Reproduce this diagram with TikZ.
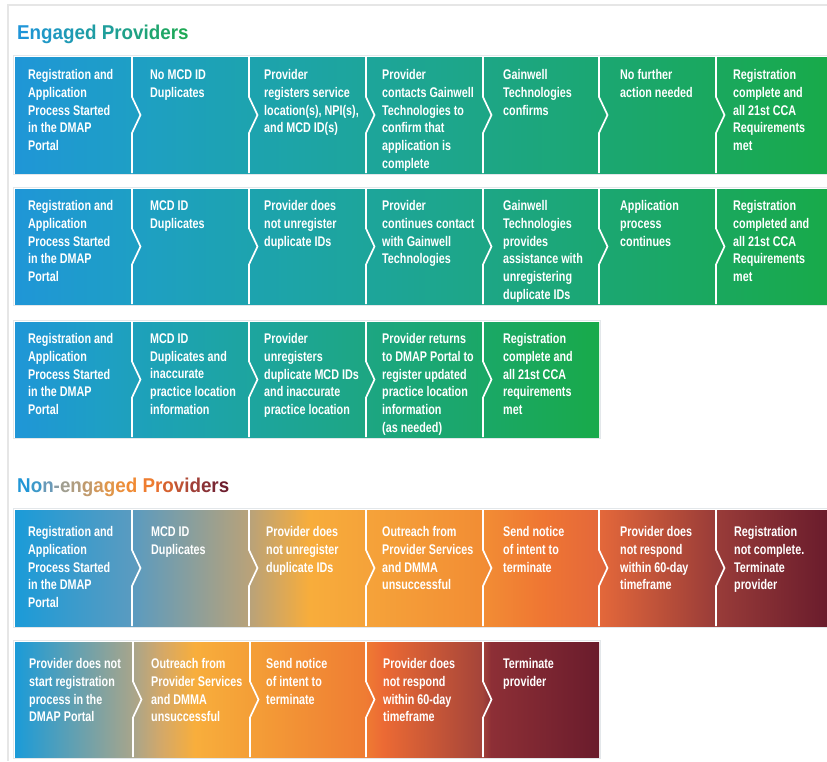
\documentclass[tikz,border=0pt]{standalone}
\usepackage{fontspec}
\usetikzlibrary{calc}
\newfontfamily\boxfont{Liberation Sans}[FakeStretch=0.77]
\newfontfamily\titlefont{Liberation Sans}[FakeStretch=0.94]

% colour stops of the "engaged" bands (blue -> green)
\definecolor{E0}{HTML}{1F96D7}
\definecolor{E1}{HTML}{1E9FC5}
\definecolor{E2}{HTML}{1DA3AF}
\definecolor{E3}{HTML}{1DA59B}
\definecolor{E4}{HTML}{1DA686}
\definecolor{E5}{HTML}{1BA772}
\definecolor{E6}{HTML}{1AA85E}
\definecolor{E7}{HTML}{18AA4A}
\pgfdeclarehorizontalshading{engagedfill}{100bp}{color(0bp)=(E0); color(25bp)=(E0);
  color(32.2bp)=(E1); color(39.4bp)=(E2); color(46.6bp)=(E3); color(53.8bp)=(E4);
  color(60.95bp)=(E5); color(68.15bp)=(E6); color(75bp)=(E7); color(100bp)=(E7)}

% colour stops of the long "non-engaged" band (blue -> tan -> orange -> maroon)
\definecolor{N0}{HTML}{1B9BD8}
\definecolor{N1}{HTML}{5A9BC0}
\definecolor{N2}{HTML}{B8A27A}
\definecolor{N3}{HTML}{F8AD3B}
\definecolor{N4}{HTML}{F5A33A}
\definecolor{N5}{HTML}{F28D34}
\definecolor{N6}{HTML}{EF7633}
\definecolor{N7}{HTML}{E4683A}
\definecolor{N8}{HTML}{993C39}
\definecolor{N9}{HTML}{6A1C2C}
\pgfdeclarehorizontalshading{nonengagedfill}{100bp}{color(0bp)=(N0); color(25bp)=(N0);
  color(32.2bp)=(N1); color(39.4bp)=(N2); color(43.15bp)=(N3); color(46.6bp)=(N4);
  color(53.8bp)=(N5); color(57.5bp)=(N6); color(60.95bp)=(N7); color(68.15bp)=(N8);
  color(75bp)=(N9); color(100bp)=(N9)}

% colour stops of the short "non-engaged" band
\definecolor{M0}{HTML}{1B9BD8}
\definecolor{M1}{HTML}{A8A58B}
\definecolor{M2}{HTML}{D2A86A}
\definecolor{M3}{HTML}{F8AE3C}
\definecolor{M4}{HTML}{F49F37}
\definecolor{M5}{HTML}{EF7C33}
\definecolor{M6}{HTML}{EC6A34}
\definecolor{M7}{HTML}{A4443A}
\definecolor{M8}{HTML}{8D2F36}
\definecolor{M9}{HTML}{6A1C2C}
\pgfdeclarehorizontalshading{nonengagedshort}{100bp}{color(0bp)=(M0); color(25bp)=(M0);
  color(35.1bp)=(M1); color(37.4bp)=(M2); color(40.4bp)=(M3); color(45.1bp)=(M4);
  color(55bp)=(M5); color(56.5bp)=(M6); color(65bp)=(M7); color(65.75bp)=(M8);
  color(75bp)=(M9); color(100bp)=(M9)}

\definecolor{framegray}{HTML}{E6E6E6}
\definecolor{edgegray}{HTML}{E3E7EA}

\newcommand\tc[2]{\textcolor[HTML]{#1}{#2}}
\newcommand\firststrut{\rule{0pt}{12pt}}

% white chevron separator between two steps: #1 top, #2 bottom, #3 x
\newcommand\chevsep[3]{%
  \draw[sepline] (#3,#1) -- (#3,{(#1+#2)/2-18}) -- ({#3+8.5},{(#1+#2)/2})
    -- (#3,{(#1+#2)/2+18}) -- (#3,#2);}

\begin{document}
\begin{tikzpicture}[x=1pt,y=-1pt,
  rowband/.style={draw=none, inner sep=0pt, outer sep=0pt, anchor=north west, shade},
  steptext/.style={anchor=north west, inner sep=0pt, align=left, text=white,
    font=\boxfont\bfseries\fontsize{14pt}{17.7pt}\selectfont,
    execute at begin node=\firststrut, yshift=-1.5pt},
  sepline/.style={draw=white, line width=1.7pt, line join=miter},
  rowedge/.style={draw=edgegray, line width=0.9pt},
  heading/.style={anchor=base west, inner sep=0pt,
    font=\titlefont\bfseries\fontsize{20pt}{24pt}\selectfont}]

\useasboundingbox[fill=white] (0,0) rectangle (827,761);
\draw[framegray, line width=1.5pt] (8,761) -- (8,5) -- (827,5);

% ---------------- Engaged providers ----------------
\node[heading] (engtitle) at (17,39) {\tc{1F95D8}{E}\tc{1F96CF}{n}\tc{1F98C6}{g}\tc{1F99BE}{a}\tc{1F9AB5}{g}\tc{1F9CAC}{e}\tc{1F9DA4}{d} \tc{1F9E9B}{P}\tc{1FA092}{r}\tc{1FA189}{o}\tc{1FA281}{v}\tc{1FA478}{i}\tc{1FA56F}{d}\tc{1FA666}{e}\tc{1FA85E}{r}\tc{1FA955}{s}};

% row 1
\node[rowband, shading=engagedfill, minimum width=812pt, minimum height=116pt] (eng1) at (15,57) {};
\draw[rowedge] ($(eng1.north west)+(-1.5,-1.5)$) rectangle ($(eng1.south east)+(1.5,1.5)$);
\foreach \x in {132,249,366,483,599,716} {\chevsep{57}{173}{\x}}
\node[steptext] (eng1a) at (28,68)  {Registration and\\Application\\Process Started\\in the DMAP\\Portal};
\node[steptext] (eng1b) at (150,68) {No MCD ID\\Duplicates};
\node[steptext] (eng1c) at (264,68) {Provider\\registers service\\location(s), NPI(s),\\and MCD ID(s)};
\node[steptext] (eng1d) at (382,68) {Provider\\contacts Gainwell\\Technologies to\\confirm that\\application is\\complete};
\node[steptext] (eng1e) at (503,68) {Gainwell\\Technologies\\confirms};
\node[steptext] (eng1f) at (620,68) {No further\\action needed};
\node[steptext] (eng1g) at (733,68) {Registration\\complete and\\all 21st CCA\\Requirements\\met};

% row 2
\node[rowband, shading=engagedfill, minimum width=812pt, minimum height=115pt] (eng2) at (15,189) {};
\draw[rowedge] ($(eng2.north west)+(-1.5,-1.5)$) rectangle ($(eng2.south east)+(1.5,1.5)$);
\foreach \x in {132,249,366,483,599,716} {\chevsep{189}{304}{\x}}
\node[steptext] (eng2a) at (28,199)  {Registration and\\Application\\Process Started\\in the DMAP\\Portal};
\node[steptext] (eng2b) at (150,199) {MCD ID\\Duplicates};
\node[steptext] (eng2c) at (264,199) {Provider does\\not unregister\\duplicate IDs};
\node[steptext] (eng2d) at (382,199) {Provider\\continues contact\\with Gainwell\\Technologies};
\node[steptext] (eng2e) at (503,199) {Gainwell\\Technologies\\provides\\assistance with\\unregistering\\duplicate IDs};
\node[steptext] (eng2f) at (620,199) {Application\\process\\continues};
\node[steptext] (eng2g) at (733,199) {Registration\\completed and\\all 21st CCA\\Requirements\\met};

% row 3
\node[rowband, shading=engagedfill, minimum width=584pt, minimum height=115pt] (eng3) at (15,322) {};
\draw[rowedge] ($(eng3.north west)+(-1.5,-1.5)$) rectangle ($(eng3.south east)+(1.5,1.5)$);
\foreach \x in {132,249,366,483} {\chevsep{322}{437}{\x}}
\node[steptext] (eng3a) at (28,332)  {Registration and\\Application\\Process Started\\in the DMAP\\Portal};
\node[steptext] (eng3b) at (150,332) {MCD ID\\Duplicates and\\inaccurate\\practice location\\information};
\node[steptext] (eng3c) at (264,332) {Provider\\unregisters\\duplicate MCD IDs\\and inaccurate\\practice location};
\node[steptext] (eng3d) at (382,332) {Provider returns\\to DMAP Portal to\\register updated\\practice location\\information\\(as needed)};
\node[steptext] (eng3e) at (503,332) {Registration\\complete and\\all 21st CCA\\requirements\\met};

% ---------------- Non-engaged providers ----------------
\node[heading] (nontitle) at (17,492) {\tc{2196D6}{N}\tc{3D99C9}{o}\tc{6A9AB8}{n}\tc{8A9CA4}{-}\tc{A09E90}{e}\tc{B09D80}{n}\tc{C09A6D}{g}\tc{D3985A}{a}\tc{E0964A}{g}\tc{EA8F3C}{e}\tc{F08A33}{d} \tc{EE7D30}{P}\tc{E8702F}{r}\tc{D6622F}{o}\tc{C05434}{v}\tc{B04A36}{i}\tc{A03F38}{d}\tc{8A3236}{e}\tc{7A2733}{r}\tc{6E1E2E}{s}};

% row 4
\node[rowband, shading=nonengagedfill, minimum width=812pt, minimum height=116pt] (non1) at (15,510) {};
\draw[rowedge] ($(non1.north west)+(-1.5,-1.5)$) rectangle ($(non1.south east)+(1.5,1.5)$);
\foreach \x in {132,249,366,483,599,716} {\chevsep{510}{626}{\x}}
\node[steptext] (non1a) at (28,525)  {Registration and\\Application\\Process Started\\in the DMAP\\Portal};
\node[steptext] (non1b) at (151,525) {MCD ID\\Duplicates};
\node[steptext] (non1c) at (266,525) {Provider does\\not unregister\\duplicate IDs};
\node[steptext] (non1d) at (382,525) {Outreach from\\Provider Services\\and DMMA\\unsuccessful};
\node[steptext] (non1e) at (503,525) {Send notice\\of intent to\\terminate};
\node[steptext] (non1f) at (620,525) {Provider does\\not respond\\within 60-day\\timeframe};
\node[steptext] (non1g) at (734,525) {Registration\\not complete.\\Terminate\\provider};

% row 5
\node[rowband, shading=nonengagedshort, minimum width=584pt, minimum height=115pt] (non2) at (15,642) {};
\draw[rowedge] ($(non2.north west)+(-1.5,-1.5)$) rectangle ($(non2.south east)+(1.5,1.5)$);
\foreach \x in {133,250,366,483} {\chevsep{642}{757}{\x}}
\node[steptext] (non2a) at (29,657)  {Provider does not\\start registration\\process in the\\DMAP Portal};
\node[steptext] (non2b) at (151,657) {Outreach from\\Provider Services\\and DMMA\\unsuccessful};
\node[steptext] (non2c) at (266,657) {Send notice\\of intent to\\terminate};
\node[steptext] (non2d) at (383,657) {Provider does\\not respond\\within 60-day\\timeframe};
\node[steptext] (non2e) at (503,657) {Terminate\\provider};

\end{tikzpicture}
\end{document}
